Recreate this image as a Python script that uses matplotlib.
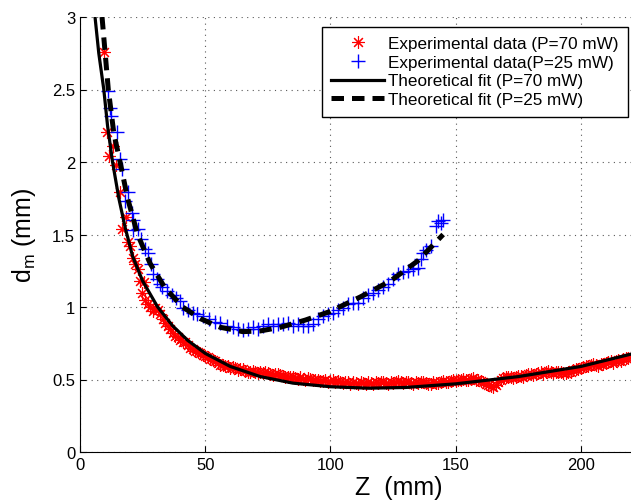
import numpy as np
import matplotlib
matplotlib.use('Agg')
import matplotlib.pyplot as plt

plt.rcParams['font.family'] = ['Liberation Sans', 'DejaVu Sans']
plt.rcParams['mathtext.fontset'] = 'custom'
plt.rcParams['mathtext.rm'] = 'Liberation Sans'
plt.rcParams['mathtext.it'] = 'Liberation Sans'

# --- Experimental data, P = 70 mW (red asterisks) ---
z_70 = [9.7, 10.7, 11.6, 13.0, 14.5, 16.0, 16.7, 18.5, 19.3, 20.0, 21.3, 22.0,
        23.3, 24.0, 24.7, 25.5, 26, 27, 28, 29, 30, 31, 32, 33, 34, 35, 36, 37,
        38, 39, 40, 41, 42, 43, 44, 45, 46, 47, 48, 49, 50, 51, 52, 53, 54, 55,
        56, 57, 58, 59, 60, 61, 62, 63, 64, 65, 66, 67, 68, 69, 70, 71, 72, 73,
        74, 75, 76, 77, 78, 79, 80, 81, 82, 83, 84, 85, 86, 87, 88, 89, 90, 91,
        92, 93, 94, 95, 96, 97, 98, 99, 100, 101, 102, 103, 104, 105, 106, 107,
        108, 109, 110, 111, 112, 113, 114, 115, 116, 117, 118, 119, 120, 121,
        122, 123, 124, 125, 126, 127, 128, 129, 130, 131, 132, 133, 134, 135,
        136, 137, 138, 139, 140, 141, 142, 143, 144, 145, 146, 147, 148, 149,
        150, 151, 152, 153, 154, 155, 156, 157, 158, 159, 160, 161, 162, 163,
        164, 165, 166, 167, 168, 169, 170, 171, 172, 173, 174, 175, 176, 177,
        178, 179, 180, 181, 182, 183, 184, 185, 186, 187, 188, 189, 190, 191,
        192, 193, 194, 195, 196, 197, 198, 199, 200, 201, 202, 203, 204, 205,
        206, 207, 208, 209, 210, 211, 212, 213, 214, 215, 216, 217, 218, 219,
        220]
d_70 = [2.76, 2.21, 2.04, 2.11, 1.98, 1.79, 1.54, 1.62, 1.45, 1.42, 1.34, 1.30,
        1.26, 1.18, 1.10, 1.17, 1.05, 1.02, 1.00, 0.97, 0.99, 0.98, 0.95, 0.92,
        0.89, 0.87, 0.85, 0.82, 0.80, 0.79, 0.77, 0.76, 0.76, 0.74, 0.72, 0.71,
        0.70, 0.69, 0.68, 0.67, 0.66, 0.655, 0.64, 0.635, 0.63, 0.615, 0.60,
        0.60, 0.59, 0.59, 0.58, 0.585, 0.58, 0.565, 0.57, 0.57, 0.56, 0.555,
        0.55, 0.56, 0.55, 0.545, 0.555, 0.545, 0.55, 0.545, 0.54, 0.53, 0.535,
        0.535, 0.53, 0.525, 0.52, 0.515, 0.52, 0.515, 0.51, 0.505, 0.515, 0.505,
        0.50, 0.51, 0.505, 0.495, 0.50, 0.50, 0.49, 0.49, 0.495, 0.485, 0.49,
        0.495, 0.485, 0.49, 0.48, 0.475, 0.48, 0.48, 0.47, 0.485, 0.475, 0.47,
        0.48, 0.475, 0.47, 0.485, 0.475, 0.47, 0.48, 0.475, 0.48, 0.485, 0.475,
        0.47, 0.48, 0.475, 0.485, 0.49, 0.48, 0.475, 0.48, 0.485, 0.475, 0.47,
        0.48, 0.475, 0.48, 0.485, 0.475, 0.47, 0.47, 0.48, 0.475, 0.475, 0.48,
        0.49, 0.485, 0.48, 0.49, 0.495, 0.49, 0.495, 0.50, 0.505, 0.50, 0.495,
        0.505, 0.51, 0.50, 0.495, 0.49, 0.48, 0.47, 0.46, 0.455, 0.45, 0.46,
        0.48, 0.50, 0.51, 0.52, 0.52, 0.515, 0.51, 0.52, 0.525, 0.525, 0.52,
        0.53, 0.535, 0.535, 0.53, 0.54, 0.545, 0.55, 0.54, 0.55, 0.56, 0.555,
        0.545, 0.55, 0.555, 0.55, 0.545, 0.545, 0.55, 0.555, 0.565, 0.57, 0.575,
        0.58, 0.585, 0.59, 0.59, 0.60, 0.61, 0.60, 0.595, 0.605, 0.61, 0.615,
        0.62, 0.625, 0.615, 0.63, 0.635, 0.63, 0.64, 0.645, 0.65, 0.655]

# --- Experimental data, P = 25 mW (blue plus) ---
z_25 = [11.3, 12.0, 12.3, 14.7, 16.0, 16.7, 18.0, 19.3, 20.7, 21.3, 21.3, 23.3,
        24.5, 26.0, 27.3, 28.3, 29.3, 30.7, 32.0, 32.7, 34.7, 36.7, 38.5, 40.0,
        41.3, 43, 45, 46.7, 49.3, 51.5, 54, 56, 58.7, 61, 63, 65, 67, 69, 71,
        73, 75, 77, 79, 81, 83, 85, 87, 89, 91, 93, 95, 97, 99, 101, 103, 105,
        107, 109, 111, 113, 115, 117, 119, 121, 123, 125, 127, 129, 131, 133,
        135, 136, 137, 138, 140, 142, 143, 144, 145]
d_25 = [2.49, 2.37, 2.32, 2.21, 2.02, 1.95, 1.73, 1.79, 1.65, 1.60, 1.53, 1.54,
        1.47, 1.40, 1.37, 1.30, 1.23, 1.19, 1.16, 1.14, 1.11, 1.08, 1.06, 1.04,
        0.99, 0.98, 0.96, 0.95, 0.94, 0.92, 0.90, 0.89, 0.87, 0.86, 0.85, 0.84,
        0.85, 0.86, 0.85, 0.87, 0.88, 0.87, 0.88, 0.88, 0.89, 0.87, 0.88, 0.87,
        0.87, 0.88, 0.92, 0.94, 0.95, 0.96, 0.98, 0.99, 1.02, 1.03, 1.03, 1.06,
        1.08, 1.10, 1.12, 1.14, 1.16, 1.19, 1.23, 1.24, 1.25, 1.26, 1.27, 1.33,
        1.37, 1.39, 1.42, 1.56, 1.59, 1.58, 1.60]

# --- Theoretical fits ---
z_fit70 = [6, 7.5, 9.5, 11, 13, 15.5, 18, 21, 25, 31, 37, 43, 50, 60, 72, 85,
           100, 115, 130, 150, 175, 200, 220]
d_fit70 = [3.0, 2.75, 2.5, 2.25, 2.0, 1.75, 1.55, 1.35, 1.18, 1.0, 0.87, 0.77,
           0.68, 0.59, 0.52, 0.475, 0.45, 0.44, 0.445, 0.47, 0.52, 0.59, 0.675]
z_fit25 = [8.8, 11.3, 13.5, 16, 19, 23, 28, 34, 41, 48, 56, 65, 72, 80, 90,
           100, 112, 124, 135, 145]
d_fit25 = [3.0, 2.5, 2.2, 2.0, 1.75, 1.5, 1.3, 1.13, 1.0, 0.92, 0.86, 0.83,
           0.835, 0.86, 0.91, 0.97, 1.07, 1.18, 1.32, 1.5]

xticks = [0, 50, 100, 150, 200]
yticks = [0, 0.5, 1, 1.5, 2, 2.5, 3]
ytick_labels = ['0', '0.5', '1', '1.5', '2', '2.5', '3']

fig = plt.figure(figsize=(6.31, 5.02), dpi=100)
ax = fig.add_axes([80/631, 49/502, 551/631, 435/502])

# matlab style '*' = 8-armed asterisk
ax.plot(z_70, d_70, linestyle='none', marker=(8, 2, 0), color='red',
        markersize=9, markeredgewidth=0.8, label='Experimental data (P=70 mW)')
ax.plot(z_25, d_25, '+', color='blue', markersize=10, markeredgewidth=1.0,
        label='Experimental data(P=25 mW)')

ax.plot(z_fit70, d_fit70, '-', color='black', lw=2.3,
        label='Theoretical fit (P=70 mW)')
ax.plot(z_fit25, d_fit25, '--', color='black', lw=3.6, dashes=(2.5, 1.6),
        label='Theoretical fit (P=25 mW)')

ax.set_xlim(0, 220)
ax.set_ylim(0, 3)
ax.set_xticks(xticks)
ax.set_yticks(yticks)
ax.set_yticklabels(ytick_labels)
ax.tick_params(direction='in', labelsize=12, length=4, top=False, right=False)
ax.spines['top'].set_visible(False)
ax.spines['right'].set_visible(False)
ax.grid(True, linestyle=(0, (1, 4)), color='0.35', lw=0.8)

ax.set_xlabel('Z  (mm)', fontsize=18)
ax.xaxis.set_label_coords(0.579, -0.052)
ax.set_ylabel(r'd$_\mathrm{m}$ (mm)', fontsize=18)
ax.yaxis.set_label_coords(-0.077, 0.5)

leg = ax.legend(loc='upper left', bbox_to_anchor=(0.439, 0.978), fontsize=12.3,
                numpoints=1, handlelength=3.1, handletextpad=0.2,
                labelspacing=0.22, borderpad=0.55, borderaxespad=0,
                fancybox=False, framealpha=1, edgecolor='black')
leg.get_frame().set_linewidth(1.0)

plt.savefig('out.png', dpi=100)
